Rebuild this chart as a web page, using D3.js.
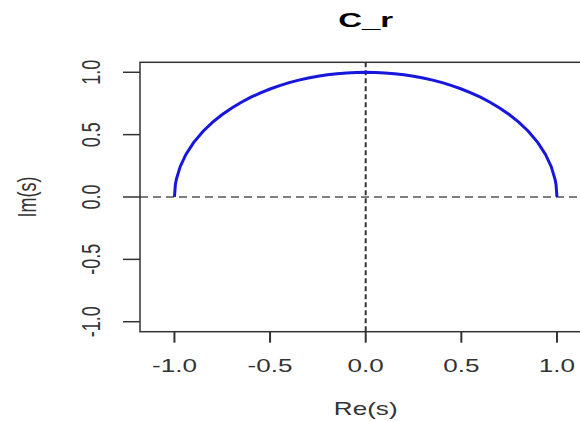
<!DOCTYPE html>
<html lang="en">
<head>
  <meta charset="UTF-8">
  <title>C_r</title>
  <script src="https://d3js.org/d3.v7.min.js"></script>
  <style>
    body { margin: 0; background: #fff; }
    text { font-family: "Liberation Sans", Arial, sans-serif; fill: #333; }
  </style>
</head>
<body>
  <script>
    const reVals = [-1.00, -0.995, -0.99, -0.97, -0.94, -0.90, -0.85, -0.80, -0.75, -0.70, -0.65, -0.60, -0.55, -0.50,
      -0.45, -0.40, -0.35, -0.30, -0.25, -0.20, -0.15, -0.10, -0.05, 0.00,
      0.05, 0.10, 0.15, 0.20, 0.25, 0.30, 0.35, 0.40, 0.45,
      0.50, 0.55, 0.60, 0.65, 0.70, 0.75, 0.80, 0.85, 0.90, 0.94, 0.97, 0.99, 0.995, 1.00];
    const imVals = [0.00, 0.10, 0.141, 0.243, 0.341, 0.436, 0.527, 0.600, 0.661, 0.714, 0.760, 0.800, 0.835, 0.866,
      0.893, 0.917, 0.937, 0.954, 0.968, 0.980, 0.989, 0.995, 0.999, 1.000,
      0.999, 0.995, 0.989, 0.980, 0.968, 0.954, 0.937, 0.917, 0.893,
      0.866, 0.835, 0.800, 0.760, 0.714, 0.661, 0.600, 0.527, 0.436, 0.341, 0.243, 0.141, 0.10, 0.00];
    const xTicks = [-1.0, -0.5, 0.0, 0.5, 1.0];
    const yTicks = [-1.0, -0.5, 0.0, 0.5, 1.0];
    const titleText = "C_r";
    const xLabel = "Re(s)";
    const yLabel = "Im(s)";

    const width = 580, height = 421;
    const stretch = 1.45; // the picture is wider than tall, text included
    const plotLeft = 140, plotTop = 62.3, plotBottom = 331.7, plotRight = 591.4;

    const x = d3.scaleLinear().domain([-1.18, 1.18]).range([plotLeft, plotRight]);
    const y = d3.scaleLinear().domain([-1.08, 1.08]).range([plotBottom, plotTop]);

    const svg = d3.select("body").append("svg")
      .attr("width", width)
      .attr("height", height);

    // reference lines
    svg.append("line")
      .attr("x1", plotLeft).attr("x2", plotRight)
      .attr("y1", y(0)).attr("y2", y(0))
      .attr("stroke", "#555").attr("stroke-width", 1.5)
      .attr("stroke-dasharray", "8,5");
    svg.append("line")
      .attr("x1", x(0)).attr("x2", x(0))
      .attr("y1", plotTop).attr("y2", plotBottom)
      .attr("stroke", "#333").attr("stroke-width", 2)
      .attr("stroke-dasharray", "5,3");

    // curve
    const pts = reVals.map((r, i) => [r, imVals[i]]);
    svg.append("path")
      .datum(pts)
      .attr("fill", "none")
      .attr("stroke", "#1616dc")
      .attr("stroke-width", 3)
      .attr("d", d3.line().x(d => x(d[0])).y(d => y(d[1])));

    // box
    svg.append("rect")
      .attr("x", plotLeft).attr("y", plotTop)
      .attr("width", plotRight - plotLeft).attr("height", plotBottom - plotTop)
      .attr("fill", "none").attr("stroke", "#333").attr("stroke-width", 1.5);

    // x axis ticks
    svg.selectAll(".xtick").data(xTicks).enter().append("line")
      .attr("x1", d => x(d)).attr("x2", d => x(d))
      .attr("y1", plotBottom).attr("y2", plotBottom + 11)
      .attr("stroke", "#333").attr("stroke-width", 2);
    svg.selectAll(".xlab").data(xTicks).enter().append("text")
      .attr("transform", d => `translate(${x(d)},372) scale(${stretch},1)`)
      .attr("text-anchor", "middle")
      .style("font-size", "18px")
      .text(d => d.toFixed(1));

    // y axis ticks
    svg.selectAll(".ytick").data(yTicks).enter().append("line")
      .attr("x1", plotLeft - 17).attr("x2", plotLeft)
      .attr("y1", d => y(d)).attr("y2", d => y(d))
      .attr("stroke", "#333").attr("stroke-width", 1.5);
    svg.selectAll(".ylab").data(yTicks).enter().append("text")
      .attr("transform", d => `translate(100,${y(d)}) scale(${stretch},1) rotate(-90)`)
      .attr("text-anchor", "middle")
      .style("font-size", "18px")
      .text(d => d.toFixed(1));

    // labels
    svg.append("text")
      .attr("transform", `translate(${x(0)},415) scale(${stretch},1)`)
      .attr("text-anchor", "middle")
      .style("font-size", "18px")
      .text(xLabel);
    svg.append("text")
      .attr("transform", `translate(36,${y(0)}) scale(${stretch},1) rotate(-90)`)
      .attr("text-anchor", "middle")
      .style("font-size", "18px")
      .text(yLabel);
    svg.append("text")
      .attr("transform", `translate(${x(0)},27) scale(1.65,1)`)
      .attr("text-anchor", "middle")
      .style("font-size", "20px")
      .style("font-weight", "bold")
      .style("fill", "#000")
      .text(titleText);
  </script>
</body>
</html>
